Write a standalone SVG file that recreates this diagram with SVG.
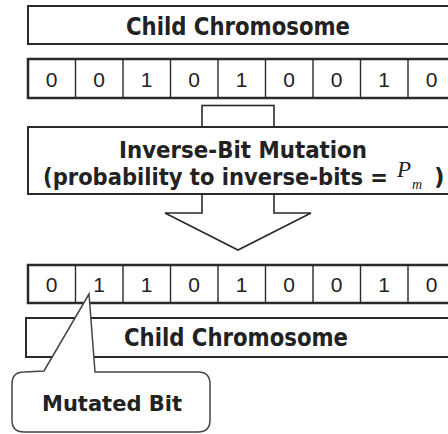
<svg xmlns="http://www.w3.org/2000/svg" width="448" height="434" viewBox="0 0 448 434">
  <style>
    .box { fill: #fff; stroke: #2a2a2a; stroke-width: 2; }
    .row { fill: #fff; stroke: #2a2a2a; stroke-width: 2.5; }
    .div { stroke: #2a2a2a; stroke-width: 1.4; }
    .title { font-family: "DejaVu Sans", Verdana, sans-serif; font-weight: bold; fill: #222; }
    .bit { font-family: "Liberation Sans", Arial, sans-serif; font-size: 21px; fill: #222; text-anchor: middle; }
    .math { font-family: "Liberation Serif", "Times New Roman", serif; font-style: italic; fill: #222; }
    .conn { fill: #fff; stroke: #2a2a2a; stroke-width: 1.6; }
  </style>
  <rect width="448" height="434" fill="#fff"/>

  <!-- parent label -->
  <g id="child-top">
    <rect class="box" x="28" y="6" width="430" height="38"/>
    <text class="title" x="126" y="35" font-size="24" textLength="224" lengthAdjust="spacingAndGlyphs">Child Chromosome</text>
  </g>

  <!-- chromosome before mutation -->
  <g id="bits-before">
    <rect class="row" x="28" y="59" width="430" height="39"/>
    <g class="div">
      <line x1="75.5" y1="59" x2="75.5" y2="98"/>
      <line x1="123" y1="59" x2="123" y2="98"/>
      <line x1="170.5" y1="59" x2="170.5" y2="98"/>
      <line x1="218" y1="59" x2="218" y2="98"/>
      <line x1="265.5" y1="59" x2="265.5" y2="98"/>
      <line x1="313" y1="59" x2="313" y2="98"/>
      <line x1="360.5" y1="59" x2="360.5" y2="98"/>
      <line x1="408" y1="59" x2="408" y2="98"/>
    </g>
    <text class="bit" x="51.5" y="87">0</text>
    <text class="bit" x="99" y="87">0</text>
    <text class="bit" x="146.5" y="87">1</text>
    <text class="bit" x="194" y="87">0</text>
    <text class="bit" x="241.5" y="87">1</text>
    <text class="bit" x="289" y="87">0</text>
    <text class="bit" x="336.5" y="87">0</text>
    <text class="bit" x="384" y="87">1</text>
    <text class="bit" x="431.5" y="87">0</text>
  </g>

  <!-- connectors -->
  <g id="connectors">
    <rect class="conn" x="202" y="105.5" width="72" height="21.5"/>
    <polyline class="conn" points="202,194 202,213 165,213 238,250 311,213 274,213 274,194"/>
  </g>

  <!-- mutation operator -->
  <g id="mutation">
    <rect class="box" x="28" y="127" width="430" height="67"/>
    <text class="title" x="119" y="158" font-size="23" textLength="248" lengthAdjust="spacingAndGlyphs">Inverse-Bit Mutation</text>
    <text class="title" x="43" y="185" font-size="23" textLength="345" lengthAdjust="spacingAndGlyphs">(probability to inverse-bits =</text>
    <text class="math" x="397" y="177" font-size="23">P</text>
    <text class="math" x="412" y="189" font-size="14">m</text>
    <text class="title" x="434" y="185" font-size="23">)</text>
  </g>

  <!-- chromosome after mutation -->
  <g id="bits-after">
    <rect class="row" x="28" y="265" width="430" height="38"/>
    <g class="div">
      <line x1="75.5" y1="265" x2="75.5" y2="303"/>
      <line x1="123" y1="265" x2="123" y2="303"/>
      <line x1="170.5" y1="265" x2="170.5" y2="303"/>
      <line x1="218" y1="265" x2="218" y2="303"/>
      <line x1="265.5" y1="265" x2="265.5" y2="303"/>
      <line x1="313" y1="265" x2="313" y2="303"/>
      <line x1="360.5" y1="265" x2="360.5" y2="303"/>
      <line x1="408" y1="265" x2="408" y2="303"/>
    </g>
    <text class="bit" x="51.5" y="292">0</text>
    <text class="bit" x="99" y="292">1</text>
    <text class="bit" x="146.5" y="292">1</text>
    <text class="bit" x="194" y="292">0</text>
    <text class="bit" x="241.5" y="292">1</text>
    <text class="bit" x="289" y="292">0</text>
    <text class="bit" x="336.5" y="292">0</text>
    <text class="bit" x="384" y="292">1</text>
    <text class="bit" x="431.5" y="292">0</text>
  </g>

  <!-- result label -->
  <g id="child-bottom">
    <rect class="box" x="26" y="318" width="432" height="39"/>
    <text class="title" x="124" y="346" font-size="24" textLength="224" lengthAdjust="spacingAndGlyphs">Child Chromosome</text>
  </g>

  <!-- callout pointing at the flipped bit -->
  <g id="mutated-bit">
    <path d="M24,372 L44,371 L89,294 L95,372 L198,372 Q210,372 210,384 L210,420 Q210,432 198,432 L24,432 Q12,432 12,420 L12,384 Q12,372 24,372 Z" fill="#fff" stroke="#444" stroke-width="1.5"/>
    <text class="title" x="42" y="411" font-size="22" textLength="140" lengthAdjust="spacingAndGlyphs">Mutated Bit</text>
  </g>
</svg>
